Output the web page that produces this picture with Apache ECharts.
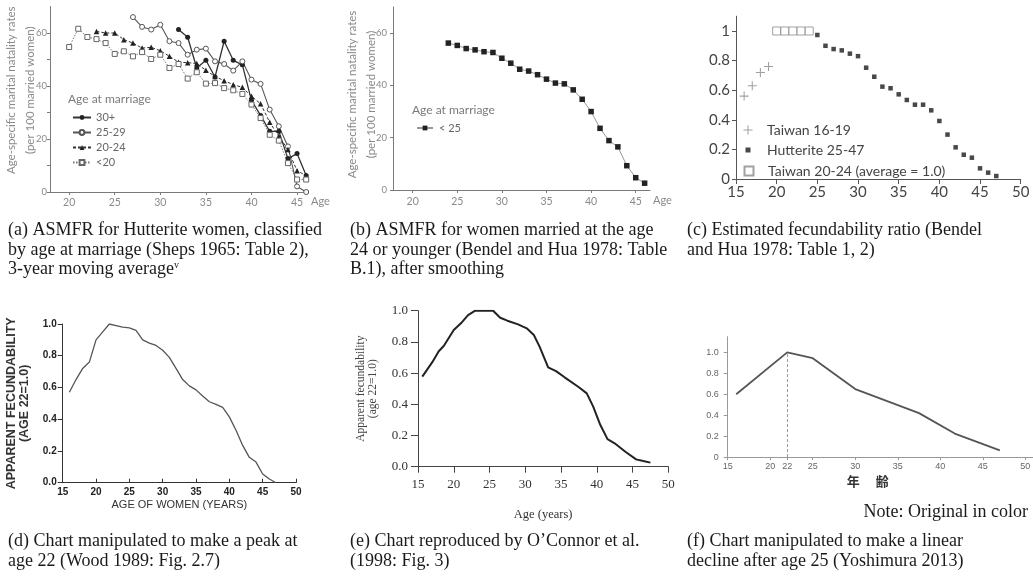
<!DOCTYPE html>
<html><head><meta charset="utf-8">
<script src="https://cdn.jsdelivr.net/npm/echarts@6/dist/echarts.min.js"></script>
<style>html,body{margin:0;padding:0;background:#fff}#c{width:1033px;height:587px}</style>
</head><body><div id="c"></div><script>
// ---------- (a) Hutterite ASMFR by age at marriage ----------
const aAge30 = [32,33,34,35,36,37,38,39,40,41,42,43,44,45,46];
const a30 = [61.3,58.4,46.8,49.7,43.4,56.9,49.7,48.0,34.6,28.9,22.9,22.9,12.6,14.5,6.2];
const aAge2529 = [27,28,29,30,31,32,33,34,35,36,37,38,39,40,41,42,43,44,45,46];
const a2529 = [66,62.3,61.3,63.1,56.9,56.2,51.8,53.7,54.1,49.3,48.3,45.8,49.3,42.4,40.8,31.1,24.8,17.2,2.1,0];
const aAge2024 = [23,24,25,26,27,28,29,30,31,32,33,34,35,36,37,38,39,40,41,42,43,44,45,46];
const a2024 = [60.6,60,60,57.5,56.2,54.3,54.6,53.3,51.2,49,48.8,48.5,45.9,43.6,42,40.5,39.5,36.1,33.3,26.3,21,16,8,6.2];
const aAgeLt20 = [20,21,22,23,24,25,26,27,28,29,30,31,32,33,34,35,36,37,38,39,40,41,42,43,44,45,46];
const aLt20 = [54.7,61.6,58.5,57.7,56.2,52.1,53.1,51.2,52.8,50.2,51.8,46.8,48.3,42.8,45.2,40.9,41.1,39.2,38.4,37,33,27.9,21.6,19.4,10.9,4.7,4.7];
const aXTicks = [20,25,30,35,40,45];
const aYTicks = [0,20,40,60];
// ---------- (b) women married at 24 or younger ----------
const bAge = [24,25,26,27,28,29,30,31,32,33,34,35,36,37,38,39,40,41,42,43,44,45,46];
const bLt25 = [56.2,55.3,54.1,53.6,52.9,52.6,50.4,48.5,46.2,45.5,44.1,42.4,40.9,40.6,38.3,34.7,30,23.6,18.9,16.5,9.3,4.7,2.6];
// ---------- (c) estimated fecundability ratio ----------
const cAgeTw1 = [16,17,18,19];
const cTw1 = [0.56,0.63,0.72,0.76];
const cAgeTw2 = [20,21,22,23,24];
const cTw2 = [1,1,1,1,1];
const cAgeHut = [25,26,27,28,29,30,31,32,33,34,35,36,37,38,39,40,41,42,43,44,45,46,47];
const cHut = [0.973,0.90,0.878,0.869,0.847,0.83,0.752,0.691,0.624,0.613,0.572,0.534,0.502,0.502,0.464,0.392,0.30,0.214,0.164,0.144,0.072,0.043,0.02];
// ---------- (d) Wood 1989 ----------
const dAge = [16,17,18,19,20,21,22,23,24,25,26,27,28,29,30,31,32,33,34,35,36,37,38,39,40,41,42,43,44,45,46,47];
const dVal = [0.57,0.65,0.72,0.76,0.90,0.95,1.0,0.99,0.98,0.975,0.96,0.90,0.88,0.865,0.835,0.79,0.72,0.65,0.61,0.585,0.546,0.51,0.493,0.475,0.415,0.33,0.235,0.16,0.13,0.055,0.023,0.0];
// ---------- (e) O'Connor et al. 1998 ----------
const eAge = [15.6,17,17.9,18.6,20,21,22,23,25.5,26.5,27.5,29,30.2,31.2,32,33.2,34.3,35.5,37.5,38.6,39.5,40.5,41.5,42.5,44,45.5,46.5,47.5];
const eVal = [0.577,0.67,0.74,0.774,0.876,0.919,0.972,1.0,1.0,0.955,0.936,0.912,0.887,0.844,0.77,0.637,0.613,0.573,0.509,0.47,0.385,0.267,0.177,0.15,0.096,0.047,0.036,0.026];
// ---------- (f) Yoshimura 2013 ----------
const fAge = [16,22,25,30,37.5,41.7,47];
const fVal = [0.6,1.0,0.945,0.65,0.42,0.225,0.065];
const fXTicks = [15,20,22,25,30,35,40,45,50];
const fPeakAge = 22;

const pairs = (xs, ys) => xs.map((x, i) => [x, ys[i]]);

const SANS = 'Lato, "Liberation Sans", sans-serif';
const SERIF = '"Liberation Serif", "Times New Roman", serif';
const ARIAL = '"Liberation Sans", Arial, sans-serif';

function xAxisCfg(o) {
  return Object.assign({
    type: 'value', splitLine: {show: false}, nameMoveOverlap: false,
    axisLine: {show: true, onZero: false, lineStyle: {color: o.lc, width: 1}},
    axisTick: {show: true, inside: !!o.tickInside, length: o.tickLen || 4, lineStyle: {color: o.lc}},
    axisLabel: {color: o.tc, fontSize: o.fs, fontFamily: o.ff, fontWeight: o.fw || 'normal', margin: o.margin, showMinLabel: true, showMaxLabel: true}
  }, o.extra || {});
}
function yAxisCfg(o) {
  return Object.assign({
    type: 'value', splitLine: {show: false}, nameMoveOverlap: false,
    axisLine: {show: true, onZero: false, lineStyle: {color: o.lc, width: 1}},
    axisTick: {show: true, inside: false, length: o.tickLen || 4, lineStyle: {color: o.lc}},
    axisLabel: {color: o.tc, fontSize: o.fs, fontFamily: o.ff, fontWeight: o.fw || 'normal', margin: o.margin, formatter: o.fmt, showMinLabel: true, showMaxLabel: true}
  }, o.extra || {});
}

const grids = [
  {left: 50, top: 6.5, width: 258, height: 185.5},
  {left: 393, top: 7, width: 257, height: 183},
  {left: 736, top: 16.2, width: 284.7, height: 162.8},
  {left: 62.7, top: 324, width: 233.3, height: 158.7},
  {left: 418, top: 310.7, width: 250.3, height: 156},
  {left: 727.7, top: 336.7, width: 305.3, height: 120.4}
].map(g => Object.assign(g, {containLabel: false, outerBoundsMode: 'none'}));

const greyA = '#7a7a7a';
const xAxes = [
  xAxisCfg({lc: greyA, tc: '#8a8a8a', fs: 10.5, ff: SANS, margin: 5, extra: {gridIndex: 0, min: 17.9, max: 46.2,
    axisLabel: {color: '#8a8a8a', fontSize: 10.5, fontFamily: SANS, margin: 5, customValues: aXTicks},
    axisTick: {show: true, length: 3, lineStyle: {color: greyA}, customValues: aXTicks},
    name: 'Age', nameLocation: 'end', nameGap: 3, nameTextStyle: {color: '#8a8a8a', fontSize: 11, fontFamily: SANS, verticalAlign: 'top', padding: [4, 0, 0, 0]}}}),
  xAxisCfg({lc: greyA, tc: '#8a8a8a', fs: 10.5, ff: SANS, margin: 6, extra: {gridIndex: 1, min: 17.8, max: 46.6,
    axisLabel: {color: '#8a8a8a', fontSize: 10.5, fontFamily: SANS, margin: 6, customValues: aXTicks},
    axisTick: {show: true, length: 3, lineStyle: {color: greyA}, customValues: aXTicks},
    name: 'Age', nameLocation: 'end', nameGap: 3, nameTextStyle: {color: '#8a8a8a', fontSize: 11, fontFamily: SANS, verticalAlign: 'top', padding: [5, 0, 0, 0]}}}),
  xAxisCfg({lc: '#555', tc: '#444', fs: 15, ff: SANS, margin: 6, tickLen: 5, extra: {gridIndex: 2, min: 15, max: 50, interval: 5}}),
  xAxisCfg({lc: '#333', tc: '#222', fs: 10, ff: ARIAL, fw: 'bold', margin: 5, tickInside: true, tickLen: 4, extra: {gridIndex: 3, min: 15, max: 50, interval: 5,
    name: 'AGE OF WOMEN (YEARS)', nameLocation: 'middle', nameGap: 17, nameTextStyle: {color: '#333', fontSize: 11, fontFamily: ARIAL}}}),
  xAxisCfg({lc: '#444', tc: '#333', fs: 13, ff: SERIF, margin: 11, tickLen: 6, extra: {gridIndex: 4, min: 15, max: 50, interval: 5,
    name: 'Age (years)', nameLocation: 'middle', nameGap: 42, nameTextStyle: {color: '#333', fontSize: 12.5, fontFamily: SERIF}}}),
  xAxisCfg({lc: '#999', tc: '#666', fs: 9, ff: ARIAL, margin: 5, tickLen: 3, extra: {gridIndex: 5, min: 15, max: 50.9,
    axisLabel: {color: '#666', fontSize: 9, fontFamily: ARIAL, margin: 5, customValues: fXTicks},
    axisTick: {show: true, length: 3, lineStyle: {color: '#999'}, customValues: fXTicks},
    name: '年　 齢', nameLocation: 'middle', nameGap: 17, nameTextStyle: {color: '#333', fontSize: 13, fontWeight: 'bold', fontFamily: '"Noto Sans CJK JP", sans-serif', padding: [0, 25, 0, 0]}}})
];

const yAxes = [
  yAxisCfg({lc: greyA, tc: '#8a8a8a', fs: 9.5, ff: SANS, margin: 3, tickLen: 3, extra: {gridIndex: 0, min: 0, max: 70,
    axisLabel: {color: '#8a8a8a', fontSize: 9.5, fontFamily: SANS, margin: 3, customValues: aYTicks},
    axisTick: {show: true, length: 3, lineStyle: {color: greyA}, customValues: [0,10,20,30,40,50,60]},
    name: 'Age-specific marital natality rates\n(per 100 married women)', nameLocation: 'middle', nameGap: 10,
    nameTextStyle: {color: '#8a8a8a', fontSize: 11.5, lineHeight: 19, fontFamily: SANS, padding: [0, 0, 0, 18]}}}),
  yAxisCfg({lc: greyA, tc: '#8a8a8a', fs: 9.5, ff: SANS, margin: 6, tickLen: 3, extra: {gridIndex: 1, min: 0, max: 70,
    axisLabel: {color: '#8a8a8a', fontSize: 9.5, fontFamily: SANS, margin: 6, customValues: aYTicks},
    axisTick: {show: true, length: 3, lineStyle: {color: greyA}, customValues: aYTicks},
    name: 'Age-specific marital natality rates\n(per 100 married women)', nameLocation: 'middle', nameGap: 12,
    nameTextStyle: {color: '#8a8a8a', fontSize: 11.5, lineHeight: 19, fontFamily: SANS, padding: [0, 0, 0, 8]}}}),
  yAxisCfg({lc: '#555', tc: '#444', fs: 15, ff: SANS, margin: 6, tickLen: 4, extra: {gridIndex: 2, min: 0, max: 1.1,
    axisLabel: {color: '#444', fontSize: 15, fontFamily: SANS, margin: 6, customValues: [0,0.2,0.4,0.6,0.8,1]},
    axisTick: {show: true, length: 4, lineStyle: {color: '#555'}, customValues: [0,0.2,0.4,0.6,0.8,1]}}}),
  yAxisCfg({lc: '#333', tc: '#222', fs: 10, ff: ARIAL, fw: 'bold', margin: 6, tickLen: 5, fmt: v => v.toFixed(1), extra: {gridIndex: 3, min: 0, max: 1, interval: 0.2,
    name: 'APPARENT FECUNDABILITY\n(AGE 22=1.0)', nameLocation: 'middle', nameGap: 31,
    nameTextStyle: {color: '#333', fontSize: 12.5, fontWeight: 'bold', lineHeight: 13.5, fontFamily: ARIAL}}}),
  yAxisCfg({lc: '#444', tc: '#333', fs: 13, ff: SERIF, margin: 10, tickLen: 7, fmt: v => v.toFixed(1), extra: {gridIndex: 4, min: 0, max: 1, interval: 0.2,
    name: 'Apparent fecundability\n(age 22=1.0)', nameLocation: 'middle', nameGap: 39,
    nameTextStyle: {color: '#444', fontSize: 11.5, lineHeight: 12, fontFamily: SERIF}}}),
  yAxisCfg({lc: '#999', tc: '#666', fs: 9, ff: ARIAL, margin: 9, tickLen: 4, fmt: v => v === 0 ? '0' : v.toFixed(1), extra: {gridIndex: 5, min: 0, max: 1.15,
    axisLabel: {color: '#666', fontSize: 9, fontFamily: ARIAL, margin: 9, customValues: [0,0.2,0.4,0.6,0.8,1.0], formatter: v => v === 0 ? '0' : v.toFixed(1)},
    axisTick: {show: true, length: 4, lineStyle: {color: '#999'}, customValues: [0,0.2,0.4,0.6,0.8,1.0]}}})
];

const PLUS = 'path://M4.4,0H5.6V4.4H10V5.6H5.6V10H4.4V5.6H0V4.4H4.4Z';
const SQ = 'path://M0,0H10V10H0Z';

const series = [
  {name: '30+', type: 'line', xAxisIndex: 0, yAxisIndex: 0, data: pairs(aAge30, a30), symbol: 'circle', symbolSize: 5,
    lineStyle: {color: '#333', width: 1.3}, itemStyle: {color: '#222'}},
  {name: '25-29', type: 'line', xAxisIndex: 0, yAxisIndex: 0, data: pairs(aAge2529, a2529), symbol: 'circle', symbolSize: 5,
    lineStyle: {color: '#555', width: 1.1}, itemStyle: {color: '#fff', borderColor: '#555', borderWidth: 1}},
  {name: '20-24', type: 'line', xAxisIndex: 0, yAxisIndex: 0, data: pairs(aAge2024, a2024), symbol: 'triangle', symbolSize: 5.5,
    lineStyle: {color: '#333', width: 1, type: [3, 2]}, itemStyle: {color: '#222'}},
  {name: '<20', type: 'line', xAxisIndex: 0, yAxisIndex: 0, data: pairs(aAgeLt20, aLt20), symbol: 'rect', symbolSize: 5,
    lineStyle: {color: '#777', width: 1, type: [1.5, 1.5]}, itemStyle: {color: '#fff', borderColor: '#666', borderWidth: 1}},
  {name: '< 25', type: 'line', xAxisIndex: 1, yAxisIndex: 1, data: pairs(bAge, bLt25), symbol: 'rect', symbolSize: 5.5,
    lineStyle: {color: '#999', width: 1}, itemStyle: {color: '#222'}},
  {name: 'Taiwan 16-19', type: 'scatter', xAxisIndex: 2, yAxisIndex: 2, data: pairs(cAgeTw1, cTw1), symbol: PLUS, symbolSize: 9,
    itemStyle: {color: '#8a8a8a'}},
  {name: 'Hutterite 25-47', type: 'scatter', xAxisIndex: 2, yAxisIndex: 2, data: pairs(cAgeHut, cHut), symbol: SQ, symbolSize: 4.5,
    itemStyle: {color: '#1a1a1a'}},
  {name: 'Taiwan 20-24 (average = 1.0)', type: 'scatter', xAxisIndex: 2, yAxisIndex: 2, data: pairs(cAgeTw2, cTw2), symbol: SQ, symbolSize: 8,
    itemStyle: {color: '#fff', borderColor: '#8a8a8a', borderWidth: 1}},
  {name: 'd', type: 'line', xAxisIndex: 3, yAxisIndex: 3, data: pairs(dAge, dVal), symbol: 'none', smooth: false,
    lineStyle: {color: '#555', width: 1.3}},
  {name: 'e', type: 'line', xAxisIndex: 4, yAxisIndex: 4, data: pairs(eAge, eVal), symbol: 'none',
    lineStyle: {color: '#222', width: 2}},
  {name: 'f', type: 'line', xAxisIndex: 5, yAxisIndex: 5, data: pairs(fAge, fVal), symbol: 'none',
    lineStyle: {color: '#555', width: 1.8},
    markLine: {silent: true, symbol: 'none', label: {show: false},
      lineStyle: {color: '#999', width: 1, type: [3, 2]},
      data: [[{coord: [fPeakAge, 0]}, {coord: [fPeakAge, fVal[fAge.indexOf(fPeakAge)]]}]]}}
];

const capStyle = {fontFamily: SERIF, fontSize: 18, color: '#1a1a1a', lineHeight: 19.5, fontWeight: 'normal'};
function cap(text, left, top, extra) {
  return Object.assign({text, left, top, padding: 0, textStyle: Object.assign({}, capStyle)}, extra || {});
}
const titles = [
  cap('(a) ASMFR for Hutterite women, classified\nby age at marriage (Sheps 1965: Table 2),\n3-year moving average{sup|v}', 8, 221,
    {textStyle: Object.assign({}, capStyle, {rich: {sup: {fontFamily: SERIF, fontSize: 10, verticalAlign: 'top', padding: [0, 0, 8, 0], color: '#1a1a1a'}}})}),
  cap('(b) ASMFR for women married at the age\n24 or younger (Bendel and Hua 1978: Table\nB.1), after smoothing', 350, 221),
  cap('(c) Estimated fecundability ratio (Bendel\nand Hua 1978: Table 1, 2)', 687, 221),
  cap('(d) Chart manipulated to make a peak at\nage 22 (Wood 1989: Fig. 2.7)', 8, 531.7),
  cap('(e) Chart reproduced by O’Connor et al.\n(1998: Fig. 3)', 350, 531.7),
  cap('(f) Chart manipulated to make a linear\ndecline after age 25 (Yoshimura 2013)', 687, 531.7),
  cap('Note: Original in color', null, 503, {right: 5}),
  {text: 'Age at marriage', left: 68, top: 93, padding: 0, textStyle: {fontFamily: SANS, fontSize: 12, color: '#7a7a7a', fontWeight: 'normal'}},
  {text: 'Age at marriage', left: 412, top: 104.5, padding: 0, textStyle: {fontFamily: SANS, fontSize: 12, color: '#7a7a7a', fontWeight: 'normal'}}
];

const legTextA = {fontFamily: SANS, fontSize: 11, color: '#666', lineHeight: 13};
const legTextC = {fontFamily: SANS, fontSize: 14, color: '#444', lineHeight: 17};
const legends = [
  {data: ['30+', '25-29', '20-24', '<20'], orient: 'vertical', left: 72, top: 111, itemWidth: 18, itemHeight: 6, itemGap: 2,
    padding: 0, selectedMode: false, textStyle: legTextA},
  {data: ['< 25'], orient: 'vertical', left: 416, top: 121.5, itemWidth: 16, itemHeight: 6, padding: 0, selectedMode: false,
    textStyle: Object.assign({}, legTextA, {padding: [0, 0, 0, 1]})},
  {data: ['Taiwan 16-19'], left: 743.5, top: 121.5, itemWidth: 9, itemHeight: 9, padding: 0, selectedMode: false,
    textStyle: Object.assign({}, legTextC, {padding: [0, 0, 0, 9.5]})},
  {data: ['Hutterite 25-47'], left: 745.5, top: 141.5, itemWidth: 5, itemHeight: 5, padding: 0, selectedMode: false,
    textStyle: Object.assign({}, legTextC, {padding: [0, 0, 0, 11.5]})},
  {data: ['Taiwan 20-24 (average = 1.0)'], left: 743.5, top: 162.5, itemWidth: 9, itemHeight: 9, padding: 0, selectedMode: false,
    textStyle: Object.assign({}, legTextC, {padding: [0, 0, 0, 9.5]})}
];

const chart = echarts.init(document.getElementById('c'), null, {renderer: 'canvas'});
chart.setOption({
  backgroundColor: '#fff',
  animation: false,
  title: titles,
  legend: legends,
  grid: grids,
  xAxis: xAxes,
  yAxis: yAxes,
  series: series
});
</script></body></html>
